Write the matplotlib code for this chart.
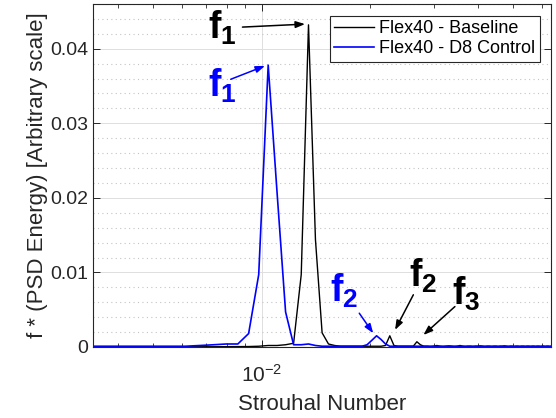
import matplotlib
matplotlib.use("Agg")
import matplotlib.pyplot as plt
import numpy as np
from matplotlib.ticker import LogLocator, NullFormatter, MultipleLocator, FixedLocator, FixedFormatter

plt.rcParams['font.family'] = ['Liberation Sans', 'DejaVu Sans']
plt.rcParams['mathtext.fontset'] = 'custom'
plt.rcParams['mathtext.rm'] = 'Liberation Sans'
plt.rcParams['mathtext.bf'] = 'Liberation Sans:bold'
plt.rcParams['mathtext.it'] = 'Liberation Sans:italic'

# frequency bins (Strouhal number), bins 5..104 of the PSD
df = 0.000613
st = np.arange(5, 105) * df

baseline = [
    # k = 5..15
    0.00003, 0.00003, 0.00003, 0.00003, 0.00003, 0.00003, 0.00003, 0.00003, 0.00004, 0.00005, 0.00006,
    # k = 16..26
    0.0001, 0.0002, 0.0002, 0.0003, 0.0005, 0.0097, 0.0432, 0.0144, 0.0019, 0.0004, 0.0002,
    # k = 27..38
    0.0001, 0.0001, 0.0001, 0.0001, 0.0001, 0.0001, 0.0001, 0.0001, 0.0001, 0.0002, 0.0015, 0.0002,
    # k = 39..50
    0.0001, 0.0001, 0.0001, 0.0001, 0.0001, 0.0007, 0.0003, 0.0001, 0.0001, 0.00005, 0.0001, 0.0002,
    # k = 51..70
    0.0001, 0.00005, 0.0001, 0.00015, 0.0001, 0.00005, 0.0001, 0.0002, 0.0001, 0.00005,
    0.0001, 0.0001, 0.00005, 0.0001, 0.0001, 0.00015, 0.0001, 0.00005, 0.0001, 0.0001,
    # k = 71..104
    0.00005, 0.0001, 0.0001, 0.00005, 0.0001, 0.0001, 0.00015, 0.0001, 0.00005, 0.0001,
    0.0001, 0.00005, 0.0001, 0.0001, 0.00005, 0.0001, 0.0001, 0.00005, 0.0001, 0.0001,
    0.00005, 0.0001, 0.0001, 0.00005, 0.0001, 0.0001, 0.00005, 0.0001, 0.0001, 0.00005,
    0.0001, 0.0001, 0.00005, 0.0001,
]

control = [
    # k = 5..15
    0.0001, 0.0001, 0.0001, 0.0001, 0.0001, 0.0001, 0.0002, 0.0003, 0.0004, 0.0004, 0.0018,
    # k = 16..26
    0.0097, 0.0378, 0.0206, 0.0047, 0.0003, 0.0003, 0.0004, 0.0002, 0.0001, 0.0001, 0.0001,
    # k = 27..38
    0.0001, 0.0001, 0.0001, 0.0001, 0.0001, 0.0003, 0.0009, 0.0015, 0.0010, 0.0004, 0.0001, 0.0001,
    # k = 39..50
    0.0001, 0.0001, 0.0001, 0.0001, 0.0001, 0.0001, 0.0001, 0.0001, 0.0001, 0.0001, 0.0001, 0.0001,
    # k = 51..70
    0.0001, 0.0001, 0.0001, 0.0001, 0.0001, 0.0001, 0.0001, 0.0001, 0.0001, 0.0001,
    0.0001, 0.0001, 0.0001, 0.0001, 0.0001, 0.0001, 0.0001, 0.0001, 0.0001, 0.0001,
    # k = 71..104
    0.0001, 0.0001, 0.0001, 0.0001, 0.0001, 0.0001, 0.0001, 0.0001, 0.0001, 0.0001,
    0.0001, 0.0001, 0.0001, 0.0001, 0.0001, 0.0001, 0.0001, 0.0001, 0.0001, 0.0001,
    0.0001, 0.0001, 0.0001, 0.0001, 0.0001, 0.0001, 0.0001, 0.0001, 0.0001, 0.0001,
    0.0001, 0.0001, 0.0001, 0.0001,
]

labels = ["Flex40 - Baseline", "Flex40 - D8 Control"]
ytick_vals = [0, 0.01, 0.02, 0.03, 0.04]
ytick_text = ["0", "0.01", "0.02", "0.03", "0.04"]

axcol = '#262626'

fig = plt.figure(figsize=(5.56, 4.18), dpi=100)
ax = fig.add_axes([0.1678, 0.1699, 0.8232, 0.8206])

ax.plot(st, baseline, color='k', lw=1.0, label=labels[0])
ax.plot(st, control, color='#0000ff', lw=1.2, label=labels[1])

ax.set_xscale('log')
ax.set_xlim(0.003405, 0.0636)
ax.set_ylim(0, 0.046)

ax.xaxis.set_major_locator(LogLocator(base=10))
ax.xaxis.set_minor_locator(LogLocator(base=10, subs=np.arange(2, 10)))
ax.xaxis.set_minor_formatter(NullFormatter())
ax.yaxis.set_major_locator(FixedLocator(ytick_vals))
ax.yaxis.set_major_formatter(FixedFormatter(ytick_text))
ax.yaxis.set_minor_locator(MultipleLocator(0.002))

ax.grid(True, which='major', color='#dedede', lw=0.7, ls='-')
ax.grid(True, which='minor', axis='y', color='#c4c4c4', lw=0.8, ls=(0, (1, 3)))
ax.set_axisbelow(True)

ax.tick_params(which='both', direction='in', top=True, right=True, colors=axcol, labelsize=14)
ax.tick_params(which='major', length=5, width=0.7)
ax.tick_params(which='minor', axis='x', length=3, width=0.6)
ax.tick_params(which='minor', axis='y', length=0)
ax.tick_params(axis='x', which='major', pad=12, labelsize=15)
for s in ax.spines.values():
    s.set_color(axcol)
    s.set_linewidth(0.8)

ax.set_xlabel("Strouhal Number", fontsize=16, color=axcol, labelpad=6)
ax.set_ylabel("f * (PSD Energy) [Arbitrary scale]", fontsize=16, color=axcol, labelpad=2)

leg = ax.legend(loc='upper right', bbox_to_anchor=(0.976, 0.965), borderaxespad=0,
                fontsize=13, handlelength=2.2, handletextpad=0.3, labelspacing=0.15,
                borderpad=0.25, fancybox=False, framealpha=1)
leg.get_frame().set_edgecolor(axcol)
leg.get_frame().set_linewidth(0.8)

# peak labels and arrows
arrow = dict(arrowstyle='-|>,head_length=0.55,head_width=0.2', lw=1.1, shrinkA=0, shrinkB=0)
notes = [
    (r'$\mathbf{f_1}$', 'k', (0.00850, 0.0428), (0.00884, 0.0429), (0.01319, 0.0433)),
    (r'$\mathbf{f_1}$', '#0000ff', (0.00854, 0.0350), (0.00820, 0.0359), (0.01021, 0.0377)),
    (r'$\mathbf{f_2}$', '#0000ff', (0.01852, 0.0075), (0.01866, 0.00453), (0.02040, 0.00184)),
    (r'$\mathbf{f_2}$', 'k', (0.03069, 0.0095), (0.02637, 0.0070), (0.02346, 0.00229)),
    (r'$\mathbf{f_3}$', 'k', (0.04040, 0.0071), (0.03440, 0.00542), (0.02812, 0.00161)),
]
for txt, col, tpos, tail, head in notes:
    ax.text(tpos[0], tpos[1], txt, color=col, fontsize=27, ha='right', va='center')
    ax.annotate('', xy=head, xytext=tail, arrowprops=dict(arrow, color=col))

fig.savefig('out.png', dpi=100)
